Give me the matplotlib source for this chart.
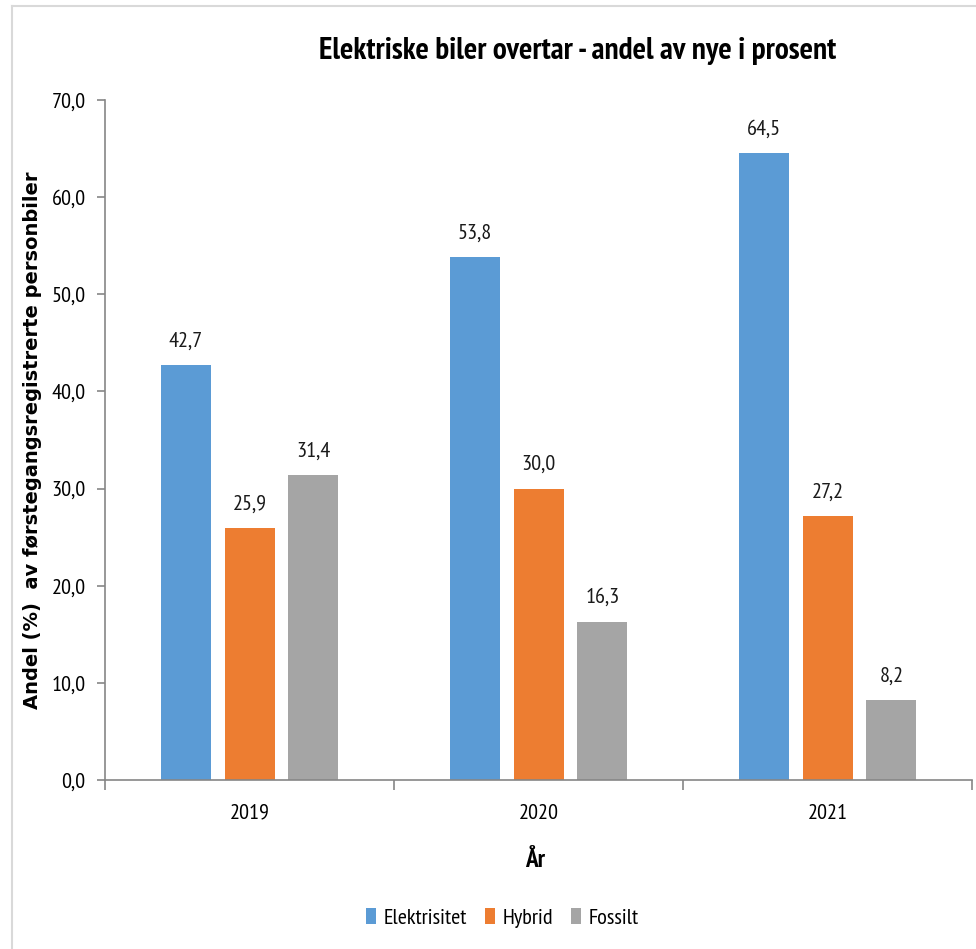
import matplotlib.pyplot as plt
import matplotlib.lines as mlines
import numpy as np

plt.rcParams['font.family'] = ['PT Sans Narrow', 'Carlito', 'Liberation Sans', 'DejaVu Sans']

years = ['2019', '2020', '2021']
series = ['Elektrisitet', 'Hybrid', 'Fossilt']
elektrisitet = [42.7, 53.8, 64.5]
hybrid = [25.9, 30.0, 27.2]
fossilt = [31.4, 16.3, 8.2]
colors = ['#5B9BD5', '#ED7D31', '#A5A5A5']

fig = plt.figure(figsize=(9.76, 9.49), dpi=100)
ax = fig.add_axes([0.1076, 0.178, 0.8884, 0.7166])

x = np.arange(len(years))
w = 0.173
step = 0.221
for i, (name, vals) in enumerate(zip(series, [elektrisitet, hybrid, fossilt])):
    bars = ax.bar(x + (i - 1) * step, vals, w, color=colors[i], label=name, zorder=2)
    for b, v in zip(bars, vals):
        ax.text(b.get_x() + b.get_width() / 2, v + 1.5, f'{v:.1f}'.replace('.', ','),
                ha='center', va='bottom', fontsize=16, color='#1a1a1a')

ax.set_xlim(-0.5, 2.5)
ax.set_ylim(0, 70)
yt = np.arange(0, 71, 10)
ax.set_yticks(yt)
ax.set_yticklabels([f'{t:.1f}'.replace('.', ',') for t in yt], fontsize=16)
ax.set_xticks(x)
ax.set_xticklabels(years, fontsize=16)
ax.set_xticks([-0.5, 0.5, 1.5, 2.5], minor=True)
ax.tick_params(axis='x', which='major', length=0, pad=17)
ax.tick_params(axis='x', which='minor', length=7, color='#868686', width=1.2)
ax.tick_params(axis='y', length=6, color='#868686', width=1.2, pad=8)

for s in ['top', 'right']:
    ax.spines[s].set_visible(False)
for s in ['left', 'bottom']:
    ax.spines[s].set_color('#868686')
    ax.spines[s].set_linewidth(1.2)

ax.set_xlabel('År', fontsize=18, fontweight='bold')
ax.xaxis.set_label_coords(0.4955, -0.102)
ax.set_ylabel('Andel (%)  av førstegangsregistrerte personbiler', fontsize=14,
              fontweight='bold', family=['DejaVu Sans'])
ax.yaxis.set_label_coords(-0.073, 0.5)

fig.text(0.592, 0.946, 'Elektriske biler overtar - andel av nye i prosent',
         ha='center', va='center', fontsize=22.5, fontweight='bold')

ax.legend(loc='center', bbox_to_anchor=(0.458, -0.203), ncol=3, frameon=False,
          fontsize=16, handlelength=0.45, handleheight=0.68, handletextpad=0.35,
          columnspacing=0.8)

# thin frame lines at top and left of the image
fig.add_artist(mlines.Line2D([12 / 976, 1], [1 - 6 / 949, 1 - 6 / 949],
                             transform=fig.transFigure, color='#d9d9d9', lw=1.5))
fig.add_artist(mlines.Line2D([12 / 976, 12 / 976], [0, 1 - 6 / 949],
                             transform=fig.transFigure, color='#d9d9d9', lw=1.5))

fig.savefig('out.png', dpi=100)
